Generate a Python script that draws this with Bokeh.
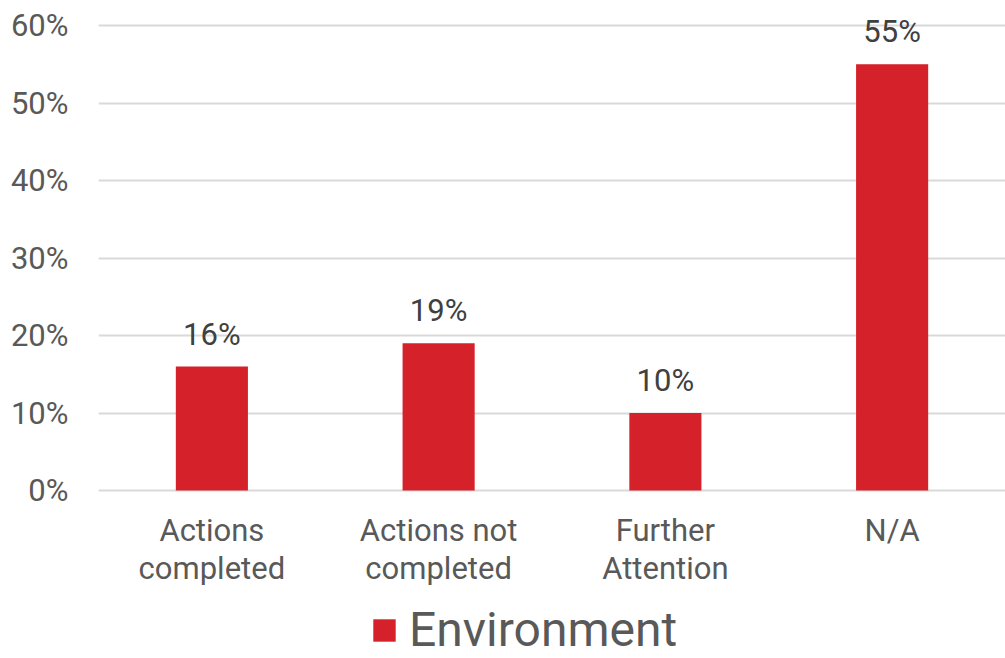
from bokeh.plotting import figure
from bokeh.models import (ColumnDataSource, Range1d, FactorRange, FixedTicker,
                          PrintfTickFormatter, LabelSet, Legend, LegendItem)
from bokeh.core.properties import value
from bokeh.embed import file_html
from bokeh.resources import INLINE

categories = ["Actions completed", "Actions not completed", "Further Attention", "N/A"]
tick_line1 = ["Actions", "Actions not", "Further", "N/A"]
tick_line2 = ["completed", "completed", "Attention", ""]
values = [16, 19, 10, 55]
series_name = "Environment"
y_ticks = [0, 10, 20, 30, 40, 50, 60]

RED = "#D52129"
GRAY = "#595959"
FONT = "Roboto"
FS = "31px"

# frame spans full height; 0% at 490px, 60% at 25px from top
PX_PER_UNIT = (490 - 25) / 60.0
Y_MIN = -(658 - 490) / PX_PER_UNIT
Y_MAX = 60 + 25 / PX_PER_UNIT

src = ColumnDataSource(dict(cat=categories, val=values,
                            lbl=[f"{v}%" for v in values],
                            t1=tick_line1, t2=tick_line2,
                            zero=[0] * len(values)))

p = figure(width=1005, height=658, output_backend="svg", toolbar_location=None,
           x_range=FactorRange(*categories, range_padding=0),
           y_range=Range1d(Y_MIN, Y_MAX),
           frame_width=907, frame_height=658,
           min_border_left=98, min_border_right=0, min_border_top=0,
           min_border_bottom=0)
p.outline_line_color = None
p.background_fill_color = "white"

r = p.vbar(x="cat", top="val", width=0.318, source=src, fill_color=RED, line_color=None)

p.yaxis.ticker = FixedTicker(ticks=y_ticks)
p.yaxis.formatter = PrintfTickFormatter(format="%d%%")
p.yaxis.axis_line_color = None
p.yaxis.major_tick_line_color = None
p.yaxis.minor_tick_line_color = None
p.yaxis.major_label_text_font = FONT
p.yaxis.major_label_text_font_size = FS
p.yaxis.major_label_text_color = GRAY
p.yaxis.major_label_standoff = 24

p.xaxis.visible = False

p.xgrid.grid_line_color = None
p.ygrid.grid_line_color = "#D9D9D9"
p.ygrid.grid_line_width = 2
p.ygrid.ticker = FixedTicker(ticks=y_ticks)
p.ygrid.level = "underlay"

labels = LabelSet(x="cat", y="val", text="lbl", source=src, y_offset=14,
                  text_align="center", text_baseline="bottom",
                  text_font=value(FONT), text_font_size=value(FS),
                  text_color="#404040")
p.add_layout(labels)

cat_labels1 = LabelSet(x="cat", y="zero", text="t1", source=src, y_offset=-40,
                       text_align="center", text_baseline="middle",
                       text_font=value(FONT), text_font_size=value(FS),
                       text_color=GRAY)
cat_labels2 = LabelSet(x="cat", y="zero", text="t2", source=src, y_offset=-78,
                       text_align="center", text_baseline="middle",
                       text_font=value(FONT), text_font_size=value(FS),
                       text_color=GRAY)
p.add_layout(cat_labels1)
p.add_layout(cat_labels2)

legend = Legend(items=[LegendItem(label=series_name, renderers=[r])],
                location=(272, 0), orientation="horizontal",
                label_text_font=FONT, label_text_font_size="48px",
                label_text_color=GRAY, glyph_width=28, glyph_height=28,
                label_standoff=11, border_line_color=None,
                background_fill_alpha=0, padding=0, margin=0)
p.add_layout(legend)

open("out.html", "w").write(file_html(p, INLINE))
